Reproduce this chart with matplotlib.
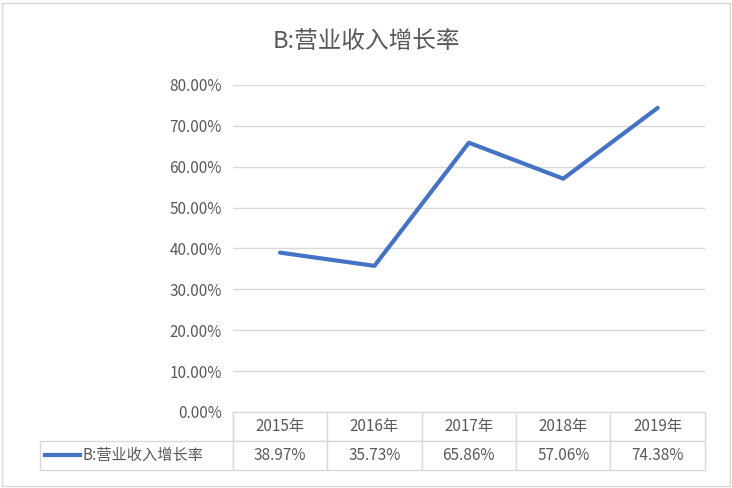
import matplotlib.pyplot as plt
from matplotlib.lines import Line2D
from matplotlib.patches import Rectangle

plt.rcParams['font.family'] = ['Noto Sans CJK SC', 'DejaVu Sans']

years = ["2015年", "2016年", "2017年", "2018年", "2019年"]
growth = [38.97, 35.73, 65.86, 57.06, 74.38]
series_name = "B:营业收入增长率"

grey = "#595959"
grid = "#D9D9D9"
blue = "#4472C4"

fig = plt.figure(figsize=(7.32, 4.88), dpi=100)
fig.patches.append(Rectangle((0.003, 0.004), 0.994, 0.99, transform=fig.transFigure,
                             fill=False, edgecolor=grid, linewidth=1))
ax = fig.add_axes([0.318, 0.156, 0.645, 0.670])

x = list(range(len(years)))
ax.plot(x, growth, color=blue, linewidth=3, solid_capstyle="round")
ax.set_xlim(-0.5, len(years) - 0.5)
ax.set_ylim(0, 80)
ax.set_yticks(range(0, 81, 10))
ax.set_yticklabels([f"{v:.2f}%" for v in range(0, 81, 10)], color=grey, fontsize=11)
ax.tick_params(axis="y", length=0, pad=8)
ax.set_xticks([])
ax.grid(axis="y", color=grid, linewidth=1)
for s in ax.spines.values():
    s.set_visible(False)

fig.text(0.5, 0.915, series_name, ha="center", va="center", fontsize=17, color=grey)

# data table under the plot: first column holds the legend key
h = 58 / 327
label_w = 193 / 472
col_w = 1 / len(years)
cells = [[""] + years, [""] + [f"{v:.2f}%" for v in growth]]
tbl = ax.table(cellText=cells, cellLoc="center",
               colWidths=[label_w] + [col_w] * len(years),
               bbox=[-label_w, -h, 1 + label_w, h])
tbl.auto_set_font_size(False)
for (r, c), cell in tbl.get_celld().items():
    cell.set_edgecolor(grid)
    cell.get_text().set_color(grey)
    cell.get_text().set_fontsize(11)
    if r == 0 and c == 0:
        cell.set_edgecolor("none")
        cell.set_facecolor("none")

y_row = -h * 0.75
ax.add_line(Line2D([-label_w + 0.012, -label_w + 0.085], [y_row, y_row], color=blue,
                   linewidth=3, transform=ax.transAxes, clip_on=False))
ax.text(-label_w + 0.09, y_row, series_name, transform=ax.transAxes, va="center",
        ha="left", fontsize=11, color=grey)
# left edge of the header row sits at the plot's left border
ax.add_line(Line2D([0, 0], [-h / 2, 0], color=grid, linewidth=1,
                   transform=ax.transAxes, clip_on=False))

fig.savefig("out.png", dpi=100)
